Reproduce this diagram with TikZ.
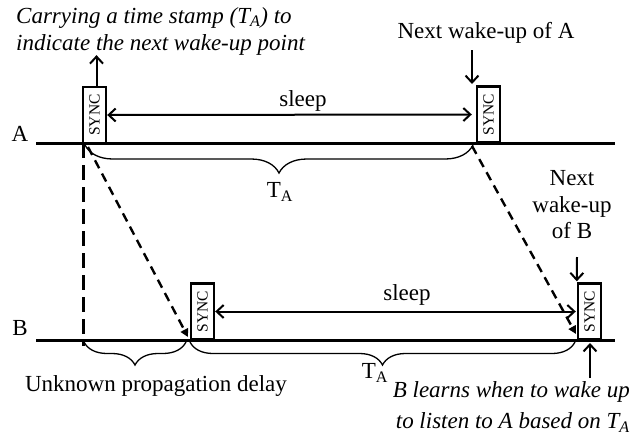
\documentclass[tikz,border=0pt]{standalone}
\usepackage{fontspec}
\setmainfont{Liberation Serif}
\usetikzlibrary{arrows.meta,decorations.pathreplacing}
\tikzset{
  lbl/.style={font=\fontsize{23}{27}\selectfont, inner sep=0pt},
  ilbl/.style={font=\fontsize{23}{27}\selectfont\itshape, inner sep=0pt},
  syncbox/.style={draw, line width=2.4pt, minimum width=23pt, minimum height=56pt, inner sep=0pt, font=\fontsize{15.5}{16}\selectfont},
  timeline/.style={line width=3pt},
  arr/.style={line width=2pt, -{Straight Barb[length=7pt,width=13pt,line width=2pt]}},
  darr/.style={line width=2pt, {Straight Barb[length=7pt,width=13pt,line width=2pt]}-{Straight Barb[length=7pt,width=13pt,line width=2pt]}},
  msg/.style={line width=2.4pt, dash pattern=on 9pt off 6pt, -{Triangle[length=8pt,width=8pt]}},
  vdash/.style={line width=3pt, dash pattern=on 15pt off 7pt},
  brc/.style={line width=1.3pt, decorate, decoration={brace, mirror, amplitude=#1}},
}
\begin{document}
\begin{tikzpicture}[x=1pt,y=-1pt]
\path[use as bounding box] (0,0) rectangle (643,437);

% timelines
\coordinate (a0) at (36,143);
\coordinate (a1) at (615,143);
\coordinate (b0) at (36,340);
\coordinate (b1) at (615,340);
\draw[timeline] (a0) -- (a1);
\draw[timeline] (b0) -- (b1);
\node[lbl] (labA) at (20,134) {A};
\node[lbl] (labB) at (20,328) {B};

% SYNC boxes
\node[syncbox] (sA1) at (94.5,115) {\rotatebox{90}{SYNC}};
\node[syncbox] (sA2) at (488.5,114.5) {\rotatebox{90}{SYNC}};
\node[syncbox] (sB1) at (202.5,311.5) {\rotatebox{90}{SYNC}};
\node[syncbox] (sB2) at (589.5,311.5) {\rotatebox{90}{SYNC}};

% top text and arrow
\node[ilbl, align=left, anchor=west] (carry) at (16,31)
  {Carrying a time stamp (T\textsubscript{A}) to\\indicate the next wake-up point};
\draw[arr] ([xshift=2pt]sA1.north) -- ([xshift=2pt]sA1.north |- carry.south);

% sleep arrows
\draw[darr, shorten >=4pt] (sA1.east) -- (sA2.west);
\node[lbl] (sleepA) at (303,101) {sleep};
\draw[darr, shorten >=1pt] (sB1.east) -- (sB2.west);
\node[lbl] (sleepB) at (407,295) {sleep};

% next wake-up of A
\node[lbl] (nwA) at (486,33) {Next wake-up of A};
\coordinate (nwAtop) at (472,50);
\coordinate (nwAbot) at (472,84);
\draw[arr] (nwAtop) -- (nwAbot);

% next wake-up of B
\node[lbl, align=center, font=\fontsize{23}{26.5}\selectfont] (nwB) at (572,205) {Next\\wake-up\\of B};
\coordinate (nwBtop) at (577,257);
\draw[arr] (nwBtop) -- ([yshift=1pt]sB2.north west);

% B learns text
\node[ilbl, align=right, anchor=east, font=\fontsize{23}{31}\selectfont\itshape] (learn) at (630,407)
  {B learns when to wake up\\to listen to A based on T\textsubscript{A}};
\coordinate (upB) at (590,378);
\draw[arr] (upB) -- (590,343);

% messages
\coordinate (m1s) at (88,147);
\coordinate (m1e) at (188,337);
\coordinate (m2s) at (472,146);
\coordinate (m2e) at (576,334);
\draw[msg] (m1s) -- (m1e);
\draw[msg] (m2s) -- (m2e);
\coordinate (v0) at (83,143);
\coordinate (v1) at (83,346);
\draw[vdash] (v0) -- (v1);

% braces
\draw[brc=28pt] (85,145) -- (473,145);
\node[lbl] (TA1) at (280,192) {T\textsubscript{A}};
\draw[brc=23pt] (84,342) -- (186,342);
\node[lbl] (unk) at (156,386) {Unknown propagation delay};
\draw[brc=23pt] (190,342) -- (575,342);
\node[lbl] (TA2) at (375,373) {T\textsubscript{A}};
\end{tikzpicture}
\end{document}
